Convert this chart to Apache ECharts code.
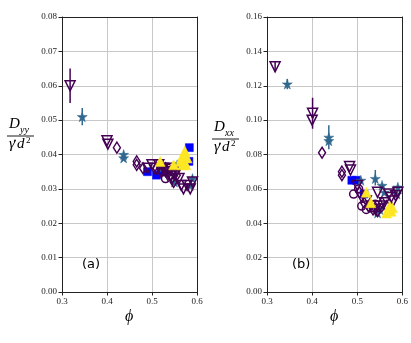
<!DOCTYPE html>
<html>
<head>
<meta charset="utf-8">
<script src="https://cdn.jsdelivr.net/npm/echarts@6/dist/echarts.min.js"></script>
<style>
html, body { margin: 0; padding: 0; background: #fff; }
#chart { width: 411px; height: 343px; }
</style>
</head>
<body>
<div id="chart"></div>
<script>
// ---- data (phi, D) ----
const xTicks = [0.3, 0.4, 0.5, 0.6]
const yTicksA = [0, 0.01, 0.02, 0.03, 0.04, 0.05, 0.06, 0.07, 0.08]
const yTicksB = [0, 0.02, 0.04, 0.06, 0.08, 0.10, 0.12, 0.14, 0.16]

// panel (a): Dyy
const aTriDown = [[0.318,0.060],[0.400,0.044],[0.402,0.043],[0.490,0.036],[0.500,0.037],[0.505,0.036],[0.515,0.037],[0.525,0.036],[0.530,0.035],[0.535,0.034],[0.540,0.036],[0.545,0.033],[0.550,0.034],[0.555,0.035],[0.560,0.033],[0.565,0.031],[0.570,0.030],[0.578,0.031],[0.585,0.030],[0.590,0.032]]
const aDiamond = [[0.422,0.042],[0.466,0.038],[0.466,0.037],[0.480,0.036],[0.510,0.036],[0.520,0.035],[0.530,0.036],[0.540,0.034],[0.548,0.032],[0.555,0.034]]
const aCircle = [[0.525,0.035],[0.535,0.036],[0.545,0.035],[0.530,0.033]]
const aStar = [[0.345,0.051],[0.437,0.040],[0.437,0.039],[0.520,0.036],[0.540,0.035],[0.550,0.032],[0.556,0.037],[0.585,0.031],[0.590,0.033]]
const aSquare = [[0.490,0.035],[0.510,0.034],[0.520,0.035],[0.583,0.042],[0.582,0.038]]
const aTriUp = [[0.518,0.038],[0.548,0.037],[0.563,0.038],[0.566,0.039],[0.568,0.037],[0.570,0.040],[0.572,0.038],[0.575,0.037],[0.578,0.039],[0.573,0.041]]
const aErrPurple = [[0.318,0.055,0.065]]
const aErrBlue = [[0.345,0.0485,0.0535]]

// panel (b): Dxx
const bTriDown = [[0.318,0.131],[0.401,0.104],[0.400,0.100],[0.483,0.073],[0.485,0.071],[0.500,0.062],[0.510,0.055],[0.520,0.053],[0.530,0.050],[0.540,0.048],[0.545,0.058],[0.550,0.050],[0.560,0.052],[0.570,0.057],[0.575,0.055],[0.580,0.053],[0.585,0.056],[0.590,0.058]]
const bDiamond = [[0.422,0.081],[0.466,0.070],[0.466,0.068],[0.505,0.058],[0.515,0.052],[0.525,0.050],[0.535,0.048],[0.545,0.047],[0.555,0.052],[0.565,0.050]]
const bCircle = [[0.492,0.057],[0.503,0.060],[0.510,0.050],[0.520,0.048],[0.530,0.049],[0.540,0.051],[0.550,0.049]]
const bStar = [[0.345,0.121],[0.437,0.090],[0.437,0.088],[0.508,0.065],[0.540,0.066],[0.545,0.046],[0.550,0.048],[0.555,0.062],[0.560,0.058],[0.588,0.057],[0.590,0.061]]
const bSquare = [[0.488,0.065],[0.498,0.065],[0.515,0.057]]
const bTriUp = [[0.520,0.058],[0.530,0.052],[0.565,0.046],[0.568,0.048],[0.572,0.050],[0.575,0.047],[0.578,0.049]]
const bErrPurple = [[0.318,0.128,0.134],[0.401,0.095,0.113]]
const bErrBlue = [[0.345,0.118,0.124],[0.437,0.083,0.097],[0.540,0.062,0.071]]

const PURPLE = '#440154'
const STEEL = '#31688e'
const BLUE = '#0000ff'
const YELLOW = '#fde725'
const STAR = 'path://M50,0 L61,35 L98,35 L68,57 L79,91 L50,70 L21,91 L32,57 L2,35 L39,35 Z'

const chart = echarts.init(document.getElementById('chart'))

const serif = 'Liberation Serif'
const grids = [
    { left: 62, top: 17, width: 135, height: 275 },
    { left: 267, top: 17, width: 136, height: 275 },
]

function xAxis(i) {
    return {
        gridIndex: i, type: 'value', min: 0.3, max: 0.6, interval: 0.1,
        axisLine: { show: true, onZero: false, lineStyle: { color: '#222', width: 1 } },
        axisTick: { show: true, length: 3.5, lineStyle: { color: '#222' } },
        axisLabel: { fontFamily: serif, fontSize: 9, color: '#222', margin: 5, formatter: v => v.toFixed(1) },
        splitLine: { show: true, lineStyle: { color: '#c8c8c8', width: 1 } },
    }
}
function xTop(i) {
    return {
        gridIndex: i, type: 'value', position: 'top', min: 0.3, max: 0.6,
        axisLine: { show: true, onZero: false, lineStyle: { color: '#222' } },
        axisTick: { show: false }, axisLabel: { show: false }, splitLine: { show: false },
    }
}
function yAxis(i, max, interval) {
    return {
        gridIndex: i, type: 'value', min: 0, max: max, interval: interval,
        axisLine: { show: true, onZero: false, lineStyle: { color: '#222', width: 1 } },
        axisTick: { show: true, length: 3.5, lineStyle: { color: '#222' } },
        axisLabel: { fontFamily: serif, fontSize: 9, color: '#222', margin: 5, formatter: v => v.toFixed(2) },
        splitLine: { show: true, lineStyle: { color: '#c8c8c8', width: 1 } },
    }
}
function yRight(i, max) {
    return {
        gridIndex: i, type: 'value', position: 'right', min: 0, max: max,
        axisLine: { show: true, onZero: false, lineStyle: { color: '#222' } },
        axisTick: { show: false }, axisLabel: { show: false }, splitLine: { show: false },
    }
}

function scatter(data, xi, yi, symbol, size, color, filled, rotate) {
    return {
        type: 'scatter', xAxisIndex: xi, yAxisIndex: yi, data: data,
        symbol: symbol, symbolSize: size, symbolRotate: rotate || 0,
        itemStyle: filled
            ? { color: color, borderColor: color, borderWidth: 0.5, opacity: 1 }
            : { color: 'rgba(0,0,0,0)', borderColor: color, borderWidth: 1.5, opacity: 1 },
        z: 3, silent: true,
    }
}

function errBars(data, xi, yi, color) {
    return {
        type: 'custom', xAxisIndex: xi, yAxisIndex: yi, data: data, z: 4, silent: true,
        renderItem: (params, api) => {
            const a = api.coord([api.value(0), api.value(1)])
            const b = api.coord([api.value(0), api.value(2)])
            return { type: 'line', shape: { x1: a[0], y1: a[1], x2: b[0], y2: b[1] }, style: { stroke: color, lineWidth: 1.5 } }
        },
    }
}

function panel(i, d) {
    const xi = i * 2, yi = i * 2
    return [
        errBars(d.errP, xi, yi, PURPLE),
        errBars(d.errB, xi, yi, STEEL),
        scatter(d.square, xi, yi, 'rect', 8, BLUE, true),
        scatter(d.star, xi, yi, STAR, 10, STEEL, true),
        scatter(d.circle, xi, yi, 'circle', 8, PURPLE, false),
        scatter(d.diamond, xi, yi, 'diamond', [7, 11], PURPLE, false),
        scatter(d.triDown, xi, yi, 'triangle', 10, PURPLE, false, 180),
        scatter(d.triUp, xi, yi, 'triangle', 10, YELLOW, true),
    ]
}

// stacked fraction  D_sub / (gamma-dot d^2), bar at (x, y)
function fraction(x, y, sub) {
    return [
        { type: 'text', left: x + 2, top: y - 19, style: { text: 'D', font: 'italic 15px ' + serif, fill: '#000' } },
        { type: 'text', left: x + 13, top: y - 11, style: { text: sub, font: 'italic 10px ' + serif, fill: '#000' } },
        { type: 'line', shape: { x1: x, y1: y, x2: x + 27, y2: y }, style: { stroke: '#000', lineWidth: 0.9 } },
        { type: 'text', left: x + 2, top: y + 1, style: { text: 'γ', font: 'italic 15px ' + serif, fill: '#000' } },
        { type: 'circle', shape: { cx: x + 8, cy: y + 4.5, r: 0.9 }, style: { fill: '#000' } },
        { type: 'text', left: x + 10, top: y + 1, style: { text: 'd', font: 'italic 15px ' + serif, fill: '#000' } },
        { type: 'text', left: x + 19, top: y + 0, style: { text: '2', font: '9px ' + serif, fill: '#000' } },
    ]
}

chart.setOption({
    animation: false,
    backgroundColor: '#fff',
    grid: grids,
    xAxis: [xAxis(0), xTop(0), xAxis(1), xTop(1)].map((a, k) => Object.assign(a, { gridIndex: k < 2 ? 0 : 1 })),
    yAxis: [yAxis(0, 0.08, 0.01), yRight(0, 0.08), yAxis(1, 0.16, 0.02), yRight(1, 0.16)].map((a, k) => Object.assign(a, { gridIndex: k < 2 ? 0 : 1 })),
    series: [
        ...panel(0, { triDown: aTriDown, diamond: aDiamond, circle: aCircle, star: aStar, square: aSquare, triUp: aTriUp, errP: aErrPurple, errB: aErrBlue }),
        ...panel(1, { triDown: bTriDown, diamond: bDiamond, circle: bCircle, star: bStar, square: bSquare, triUp: bTriUp, errP: bErrPurple, errB: bErrBlue }),
    ],
    graphic: [
        ...fraction(7, 136, 'yy'),
        ...fraction(212, 139, 'xx'),
        { type: 'text', left: 125, top: 309, style: { text: 'ϕ', font: 'italic 16px ' + serif, fill: '#000' } },
        { type: 'text', left: 330, top: 309, style: { text: 'ϕ', font: 'italic 16px ' + serif, fill: '#000' } },
        { type: 'text', left: 82, top: 258, style: { text: '(a)', font: '13px DejaVu Sans', fill: '#000' } },
        { type: 'text', left: 292, top: 258, style: { text: '(b)', font: '13px DejaVu Sans', fill: '#000' } },
    ],
})
</script>
</body>
</html>
